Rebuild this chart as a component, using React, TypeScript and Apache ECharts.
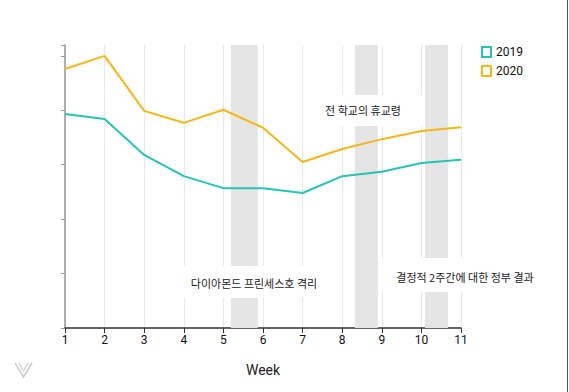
import React, { useEffect, useRef } from "react";
import * as echarts from "echarts";

const weeks = [1, 2, 3, 4, 5, 6, 7, 8, 9, 10, 11];
const values2019 = [3.93, 3.84, 3.18, 2.79, 2.57, 2.57, 2.48, 2.79, 2.87, 3.03, 3.09];
const values2020 = [4.76, 5.0, 3.99, 3.77, 4.01, 3.68, 3.05, 3.29, 3.47, 3.62, 3.69];
const bands: [number, number][] = [
  [5.19, 5.87],
  [8.32, 8.9],
  [10.09, 10.67],
];
const annotations = [
  { text: "전 학교의 휴교령", x: 363, y: 110, box: [303, 95, 121, 31] },
  { text: "다이아몬드 프린세스호 격리", x: 254, y: 283, box: [182, 266, 156, 32] },
  { text: "결정적 2주간에 대한 정부 결과", x: 465, y: 277, box: [382, 258, 176, 34] },
];

const C2019 = "#25c4b4";
const C2020 = "#f6b619";

export default function App() {
  const ref = useRef<HTMLDivElement>(null);
  useEffect(() => {
    if (!ref.current) return;
    const chart = echarts.init(ref.current, undefined, { renderer: "svg" });
    const graphics: any[] = [];
    annotations.forEach((a) => {
      graphics.push({
        type: "rect",
        shape: { x: a.box[0], y: a.box[1], width: a.box[2], height: a.box[3] },
        style: { fill: "#fff" },
        z: 50,
      });
      graphics.push({
        type: "text",
        x: a.x,
        y: a.y,
        style: {
          text: a.text,
          fill: "#222",
          font: '11px "Noto Sans CJK KR", sans-serif',
          align: "center",
          verticalAlign: "middle",
        },
        z: 51,
      });
    });
    graphics.push({
      type: "line",
      shape: { x1: 567.5, y1: 0, x2: 567.5, y2: 392 },
      style: { stroke: "#555", lineWidth: 1 },
    });
    graphics.push({
      type: "polyline",
      shape: { points: [[15, 363], [23.5, 377], [32, 363]] },
      style: { stroke: "#ccc", lineWidth: 1.5, fill: "none" },
    });
    graphics.push({
      type: "polyline",
      shape: { points: [[19, 363], [23.5, 371], [28, 363]] },
      style: { stroke: "#ccc", lineWidth: 1.2, fill: "none" },
    });
    chart.setOption({
      animation: false,
      grid: { left: 65, right: 108, top: 45, bottom: 64 },
      legend: {
        orient: "vertical",
        left: 476,
        top: 41,
        itemWidth: 9,
        itemHeight: 10,
        itemGap: 7,
        icon: "rect",
        textStyle: { fontFamily: "Roboto, sans-serif", fontSize: 12, color: "#111" },
        data: [
          { name: "2019", itemStyle: { color: "#fff", borderColor: C2019, borderWidth: 2 } },
          { name: "2020", itemStyle: { color: "#fff", borderColor: C2020, borderWidth: 2 } },
        ],
      },
      xAxis: {
        type: "value",
        min: 1,
        max: 11,
        interval: 1,
        name: "Week",
        nameLocation: "middle",
        nameGap: 35,
        nameTextStyle: { fontSize: 14, color: "#222", fontFamily: "Roboto, sans-serif" },
        axisLine: { show: true, lineStyle: { color: "#333", width: 1.5 } },
        axisTick: { show: true, length: 5, lineStyle: { color: "#333" } },
        axisLabel: { fontSize: 12, color: "#111", margin: 6, fontFamily: "Roboto, sans-serif" },
        splitLine: { show: true, lineStyle: { color: "#e8e8e8", width: 1.2 } },
      },
      yAxis: {
        type: "value",
        min: 0,
        max: 5.2,
        interval: 1,
        axisLine: { show: true, lineStyle: { color: "#999", width: 1.5 } },
        axisTick: { show: true, length: 4, lineStyle: { color: "#999" } },
        axisLabel: { show: false },
        splitLine: { show: false },
      },
      series: [
        {
          name: "2019",
          type: "line",
          data: weeks.map((w, i) => [w, values2019[i]]),
          symbol: "none",
          lineStyle: { color: C2019, width: 2 },
          itemStyle: { color: C2019 },
          z: 3,
          markArea: {
            silent: true,
            itemStyle: { color: "#e5e5e5" },
            data: bands.map((b) => [{ xAxis: b[0] }, { xAxis: b[1] }]),
          },
        },
        {
          name: "2020",
          type: "line",
          data: weeks.map((w, i) => [w, values2020[i]]),
          symbol: "none",
          lineStyle: { color: C2020, width: 2 },
          itemStyle: { color: C2020 },
          z: 3,
        },
      ],
      graphic: graphics,
    });
    return () => chart.dispose();
  }, []);
  return <div ref={ref} style={{ width: 569, height: 392, position: "absolute", left: 0, top: 0 }} />;
}
